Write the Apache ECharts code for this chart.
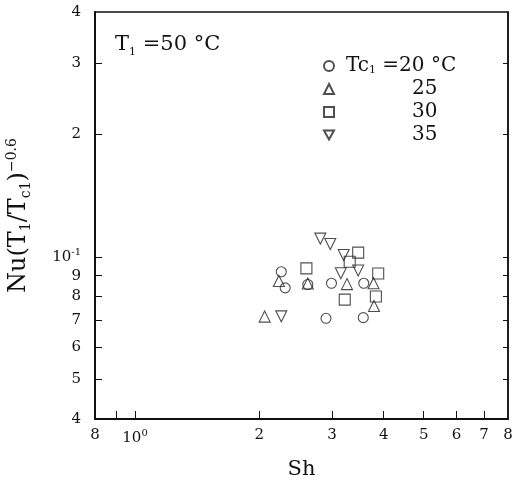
<!DOCTYPE html>
<html>
<head>
<meta charset="utf-8">
<script src="https://cdn.jsdelivr.net/npm/echarts@6/dist/echarts.min.js"></script>
<style>
  html, body { margin: 0; padding: 0; background: #fff; }
  #chart { width: 514px; height: 480px; }
</style>
</head>
<body>
<div id="chart"></div>
<script>
// Tc1 values (legend) and the measured points for each
const tc1 = ['20', '25', '30', '35']
const sh20 = [2.26, 2.31, 2.62, 2.99, 3.58, 2.90, 3.57]
const nu20 = [0.092, 0.084, 0.0856, 0.0862, 0.0862, 0.0707, 0.071]
const sh25 = [2.23, 2.62, 3.26, 3.78, 3.79, 2.06]
const nu25 = [0.0873, 0.0861, 0.0858, 0.0862, 0.0758, 0.0714]
const sh30 = [2.60, 3.47, 3.31, 3.88, 3.22, 3.83]
const nu30 = [0.0938, 0.1025, 0.0974, 0.0911, 0.0786, 0.080]
const sh35 = [2.81, 2.97, 3.20, 3.47, 3.15, 2.26]
const nu35 = [0.111, 0.1077, 0.1012, 0.0927, 0.0912, 0.0715]

// axis ticks / labels
const xTicks = [0.9, 1, 2, 3, 4, 5, 6, 7]
const xLabels = [0.8, 1, 2, 3, 4, 5, 6, 7, 8]
const yTicks = [0.05, 0.06, 0.07, 0.08, 0.09, 0.1, 0.2, 0.3]
const yLabels = [0.04, 0.05, 0.06, 0.07, 0.08, 0.09, 0.1, 0.2, 0.3, 0.4]

const font = 'DejaVu Serif'
const ink = '#111'

const symbols = ['circle', 'triangle', 'rect', 'path://M0,0 L10,0 L5,9 Z']
const xs = [sh20, sh25, sh30, sh35]
const ys = [nu20, nu25, nu30, nu35]

const pairs = (a, b) => a.map((v, i) => [v, b[i]])

// first digit of a tick value, e.g. 0.8 -> 8, 0.05 -> 5, 3 -> 3
const digit = v => {
  while (v < 1 - 1e-9) v *= 10
  return String(Math.round(v))
}

const chart = echarts.init(document.getElementById('chart'))

chart.setOption({
  animation: false,
  backgroundColor: '#fff',
  textStyle: { fontFamily: font, color: ink },
  title: {
    text: '{a|T}{s|1}{a| =50 °C}',
    left: 110,
    top: 27,
    textStyle: {
      rich: {
        a: { fontFamily: font, fontSize: 21, fontWeight: 'normal', color: ink, lineHeight: 26 },
        s: { fontFamily: font, fontSize: 11, fontWeight: 'normal', color: ink, verticalAlign: 'bottom', lineHeight: 26 }
      }
    }
  },
  legend: {
    orient: 'vertical',
    left: 318,
    top: 51,
    itemWidth: 10,
    itemHeight: 10,
    itemGap: 3,
    data: tc1,
    formatter: name => name === '20'
      ? '{g|}{t|Tc}{s|1}{t| =20 °C}'
      : '{p|}{t|' + name + '}',
    textStyle: {
      rich: {
        t: { fontFamily: font, fontSize: 20, color: ink, lineHeight: 20 },
        s: { fontFamily: font, fontSize: 11, color: ink, verticalAlign: 'bottom', lineHeight: 20 },
        g: { width: 7, lineHeight: 20 },
        p: { width: 73, lineHeight: 20 }
      }
    }
  },
  grid: {
    left: 95,
    right: 6,
    top: 12,
    bottom: 61,
    outerBoundsMode: 'none',
    containLabel: false,
    show: true,
    borderColor: ink,
    borderWidth: 1.5
  },
  xAxis: {
    type: 'log',
    logBase: 10,
    min: 0.8,
    max: 8,
    name: 'Sh',
    nameLocation: 'middle',
    nameGap: 40,
    nameTextStyle: { fontFamily: font, fontSize: 21, color: ink },
    axisLine: { show: true, lineStyle: { color: ink, width: 2 } },
    axisTick: { show: true, inside: true, length: 8, customValues: xTicks, lineStyle: { color: ink } },
    axisLabel: {
      customValues: xLabels,
      margin: 9,
      color: ink,
      fontFamily: font,
      fontSize: 15,
      formatter: v => Math.abs(v - 1) < 1e-9 ? '{b|10}{u|0}' : digit(v),
      rich: {
        b: { fontFamily: font, fontSize: 15, color: ink, lineHeight: 20 },
        u: { fontFamily: font, fontSize: 10, color: ink, verticalAlign: 'top', lineHeight: 20 }
      }
    },
    splitLine: { show: false }
  },
  yAxis: [{
    type: 'log',
    logBase: 10,
    min: 0.04,
    max: 0.4,
    name: '{m|Nu(T}{s|1}{m|/T}{s|c1}{m|)}{u|−0.6}',
    nameLocation: 'middle',
    nameRotate: 90,
    nameGap: 62,
    nameTextStyle: {
      rich: {
        m: { fontFamily: font, fontSize: 24, color: ink, lineHeight: 28 },
        s: { fontFamily: font, fontSize: 14, color: ink, verticalAlign: 'bottom', lineHeight: 28 },
        u: { fontFamily: font, fontSize: 14, color: ink, verticalAlign: 'top', lineHeight: 28 }
      }
    },
    axisLine: { show: true, lineStyle: { color: ink, width: 2 } },
    axisTick: { show: true, inside: true, length: 7, customValues: yTicks, lineStyle: { color: ink } },
    axisLabel: {
      customValues: yLabels,
      margin: 14,
      color: ink,
      fontFamily: font,
      fontSize: 15,
      formatter: v => Math.abs(v - 0.1) < 1e-9 ? '{b|10}{u|-1}' : digit(v),
      rich: {
        b: { fontFamily: font, fontSize: 15, color: ink, lineHeight: 20 },
        u: { fontFamily: font, fontSize: 10, color: ink, verticalAlign: 'top', lineHeight: 20 }
      }
    },
    splitLine: { show: false }
  }, {
    type: 'log',
    logBase: 10,
    min: 0.04,
    max: 0.4,
    position: 'right',
    axisLine: { show: true, lineStyle: { color: ink, width: 1.5 } },
    axisTick: { show: true, inside: true, length: 5, customValues: yTicks, lineStyle: { color: ink } },
    axisLabel: { show: false },
    splitLine: { show: false }
  }],
  series: tc1.map((t, i) => ({
    name: t,
    type: 'scatter',
    symbol: symbols[i],
    symbolSize: i === 0 ? 10 : 11,
    itemStyle: { color: 'rgba(0,0,0,0)', borderColor: '#222', borderWidth: 1.1 },
    data: pairs(xs[i], ys[i])
  }))
})
</script>
</body>
</html>
